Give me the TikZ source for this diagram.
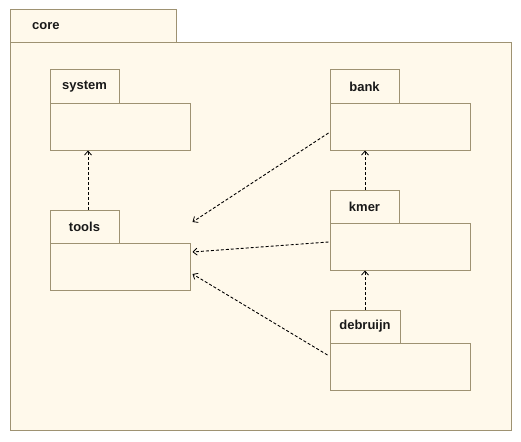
\documentclass[tikz,border=0pt]{standalone}
\usepackage{fontspec}
\setmainfont{Liberation Sans}
\usetikzlibrary{arrows.meta}
\definecolor{pkgline}{HTML}{9E9272}
\definecolor{pkgfill}{HTML}{FFF9EB}
\tikzset{
  pkgbody/.style={draw=pkgline, fill=pkgfill, line width=1pt, inner sep=0pt, minimum width=140pt, minimum height=47pt},
  pkgtab/.style={draw=pkgline, fill=pkgfill, line width=1pt, inner sep=0pt, minimum width=69pt, minimum height=33pt, font=\fontsize{13}{15}\selectfont\bfseries, text=black!90},
  dep/.style={draw=black, line width=0.9pt, dash pattern=on 3pt off 2pt, -{Straight Barb[length=4pt,width=7pt,line width=0.8pt]}}
}
\begin{document}
\begin{tikzpicture}[x=1pt,y=-1pt]
\fill[white] (0,0) rectangle (521,441);
\useasboundingbox (0,0) rectangle (521,441);
% core package
\node[pkgtab, minimum width=166pt] (coret) at (93,26.5) {};
\node[anchor=west, font=\fontsize{13}{15}\selectfont\bfseries, text=black!90, inner sep=0pt] (corelabel) at (32,26.5) {core};
\node[pkgbody, minimum width=501pt, minimum height=387pt] (coreb) at (260.5,236.5) {};
% system
\node[pkgtab] (systemt) at (84.5,86.5) {system};
\node[pkgbody] (systemb) at (120,126.5) {};
% bank
\node[pkgtab] (bankt) at (364.5,86.5) {bank};
\node[pkgbody] (bankb) at (400,126.5) {};
% tools
\node[pkgtab] (toolst) at (84.5,226.5) {tools};
\node[pkgbody] (toolsb) at (120,266.5) {};
% kmer
\node[pkgtab] (kmert) at (364.5,206.5) {kmer};
\node[pkgbody] (kmerb) at (400,246.5) {};
% debruijn
\node[pkgtab, minimum width=70pt] (debruijnt) at (365,326.5) {debruijn};
\node[pkgbody] (debruijnb) at (400,366.5) {};
% dependencies
\draw[dep] ([xshift=3.5pt]toolst.north) -- ([xshift=-32pt]systemb.south);
\draw[dep] ([xshift=0.5pt]kmert.north) -- ([xshift=-35pt]bankb.south);
\draw[dep] ([xshift=0pt]debruijnt.north) -- ([xshift=-35pt]kmerb.south);
\draw[dep] ([xshift=-1pt,yshift=-6.5pt]bankb.west) -- ([xshift=2pt,yshift=44.5pt]toolsb.east);
\draw[dep] ([xshift=-1pt,yshift=4.5pt]kmerb.west) -- ([xshift=2pt,yshift=14.5pt]toolsb.east);
\draw[dep] ([xshift=-2pt,yshift=11.5pt]debruijnb.west) -- ([xshift=2pt,yshift=-7.5pt]toolsb.east);
\end{tikzpicture}
\end{document}
